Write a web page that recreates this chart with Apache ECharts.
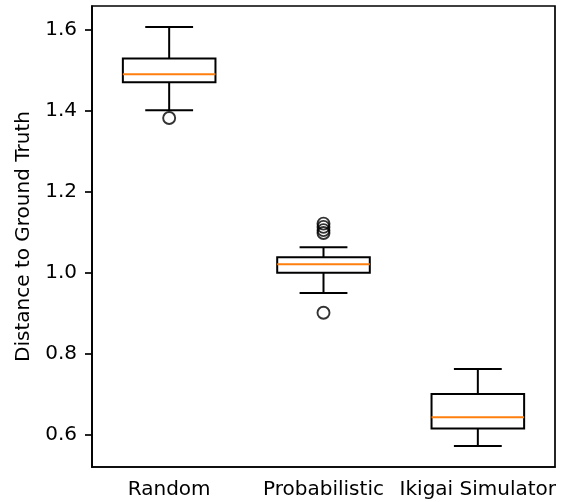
<!DOCTYPE html>
<html>
<head>
<meta charset="utf-8">
<script src="https://cdn.jsdelivr.net/npm/echarts@6/dist/echarts.min.js"></script>
<style>
  html, body { margin: 0; padding: 0; background: #fff; }
  #chart { width: 569px; height: 502px; }
</style>
</head>
<body>
<div id="chart"></div>
<script>
// box stats
const categories = ['Random', 'Probabilistic', 'Ikigai Simulator']
const whiskerLow = [1.401, 0.950, 0.572]
const q1 = [1.470, 1.000, 0.615]
const median = [1.490, 1.021, 0.643]
const q3 = [1.529, 1.038, 0.700]
const whiskerHigh = [1.607, 1.063, 0.762]
// [category index, value]
const outliers = [[0, 1.382], [1, 0.901], [1, 1.098], [1, 1.105], [1, 1.113], [1, 1.121]]
const yTicks = [0.6, 0.8, 1.0, 1.2, 1.4, 1.6]

const FONT = 'DejaVu Sans'
const FS = 20
const LW = 2

const boxData = categories.map((c, i) => [i, whiskerLow[i], q1[i], median[i], q3[i], whiskerHigh[i]])

function renderBox(params, api) {
    const idx = api.value(0)
    const band = api.size([1, 0])[0]
    const half = band * 0.3
    const capHalf = band * 0.155
    const x = api.coord([idx, 0])[0]
    const yOf = v => api.coord([idx, v])[1]
    const yLo = yOf(api.value(1))
    const yQ1 = yOf(api.value(2))
    const yMed = yOf(api.value(3))
    const yQ3 = yOf(api.value(4))
    const yHi = yOf(api.value(5))
    const black = { stroke: '#000', lineWidth: LW, fill: null }
    const line = (x1, y1, x2, y2, style) => ({
        type: 'line',
        shape: { x1, y1, x2, y2 },
        style: style || black
    })
    return {
        type: 'group',
        children: [
            line(x, yQ1, x, yLo),
            line(x, yQ3, x, yHi),
            line(x - capHalf, yLo, x + capHalf, yLo),
            line(x - capHalf, yHi, x + capHalf, yHi),
            {
                type: 'rect',
                shape: { x: x - half, y: yQ3, width: half * 2, height: yQ1 - yQ3 },
                style: { stroke: '#000', lineWidth: LW, fill: '#fff' }
            },
            line(x - half, yMed, x + half, yMed, { stroke: '#ff7f0e', lineWidth: LW })
        ]
    }
}

const chart = echarts.init(document.getElementById('chart'))

chart.setOption({
    animation: false,
    backgroundColor: '#fff',
    textStyle: { fontFamily: FONT, color: '#000' },
    grid: {
        left: 92,
        right: 14,
        top: 6,
        bottom: 35,
        show: true,
        borderColor: '#000',
        borderWidth: 1.7,
        containLabel: false
    },
    xAxis: {
        type: 'category',
        data: categories,
        boundaryGap: true,
        axisLine: { lineStyle: { color: '#000', width: 1.7 } },
        axisTick: { alignWithLabel: true, length: 7, lineStyle: { color: '#000', width: 1.7 } },
        axisLabel: { color: '#000', fontFamily: FONT, fontSize: FS, margin: 13, interval: 0 },
        splitLine: { show: false }
    },
    yAxis: {
        type: 'value',
        min: 0.52,
        max: 1.6586,
        name: 'Distance to Ground Truth',
        nameLocation: 'middle',
        nameGap: 55,
        nameTextStyle: { color: '#000', fontFamily: FONT, fontSize: FS },
        axisLine: { show: true, lineStyle: { color: '#000', width: 1.7 } },
        axisTick: { show: true, length: 7, customValues: yTicks, lineStyle: { color: '#000', width: 1.7 } },
        axisLabel: {
            color: '#000',
            fontFamily: FONT,
            fontSize: FS,
            margin: 15,
            customValues: yTicks,
            formatter: v => v.toFixed(1)
        },
        splitLine: { show: false }
    },
    series: [
        {
            type: 'custom',
            renderItem: renderBox,
            encode: { x: 0, y: [1, 2, 3, 4, 5] },
            data: boxData,
            z: 2
        },
        {
            type: 'scatter',
            data: outliers,
            symbol: 'circle',
            symbolSize: 12,
            itemStyle: { color: 'rgba(0,0,0,0)', borderColor: '#000', borderWidth: 1.9 },
            z: 3
        }
    ]
})
</script>
</body>
</html>
